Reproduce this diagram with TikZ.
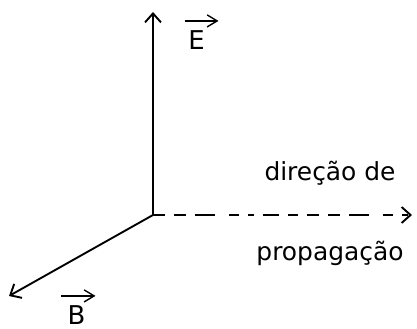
\documentclass[tikz,border=0pt]{standalone}
\usepackage{fontspec}
\setmainfont{DejaVu Sans}
\usetikzlibrary{arrows.meta}
\begin{document}
\begin{tikzpicture}[x=1bp,y=1bp,
  axis/.style={line width=1.9bp,-{Straight Barb[length=9bp,width=16bp,line width=1.9bp]}},
  vecarrow/.style={line width=1.4bp,-{Straight Barb[length=10bp,width=12bp,line width=1.4bp]}},
  lbl/.style={inner sep=0pt,font=\fontsize{25}{29}\selectfont},
  vlbl/.style={inner sep=0pt,font=\fontsize{26}{30}\selectfont}]
\useasboundingbox (0,0) rectangle (417,329);
\coordinate (O) at (153,114);
\coordinate (Etip) at (153,317);
\coordinate (Ptip) at (412,114);
\coordinate (Btip) at (9,33);
\draw[axis] (O) -- (Etip);
\draw[axis,dash pattern=on 12bp off 9bp on 12bp off 9bp on 20bp off 14bp on 10bp off 9bp on 6bp off 9bp on 16bp off 9bp on 10bp off 9bp] (O) -- (Ptip);
\draw[axis] (O) -- (Btip);
\node[vlbl,anchor=base] (E) at (196.5,280) {E};
\node[vlbl,anchor=base] (B) at (76.5,5) {B};
\draw[vecarrow] ([xshift=-12bp,yshift=9bp]E.north) -- ([xshift=22bp,yshift=9bp]E.north);
\draw[vecarrow] ([xshift=-15bp,yshift=9bp]B.north) -- ([xshift=19bp,yshift=9bp]B.north);
\node[lbl] (d1) at (330,156) {direção de};
\node[lbl] (d2) at (330,76) {propagação};
\end{tikzpicture}
\end{document}
